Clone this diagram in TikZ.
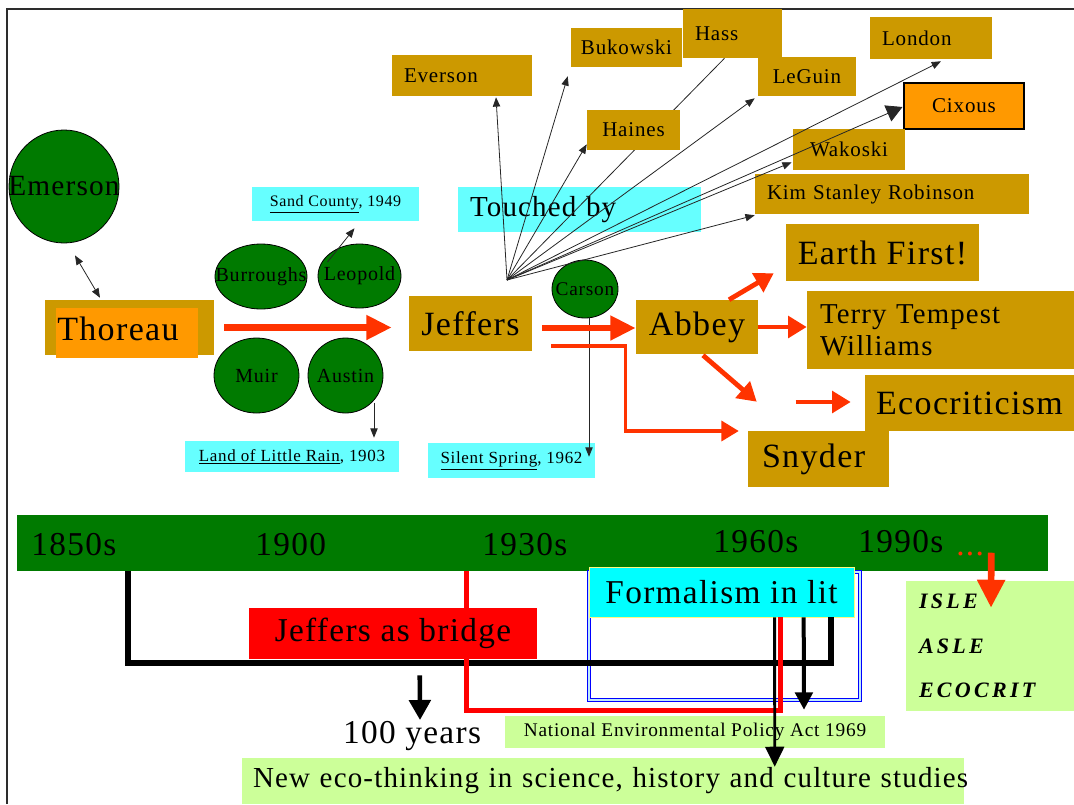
\documentclass[tikz,border=0pt]{standalone}
\usepackage{fontspec}
\setmainfont{Liberation Serif}[LetterSpace=4]
\newfontfamily\islefont{Liberation Serif}[LetterSpace=15]
\usetikzlibrary{arrows.meta,calc,shapes.geometric}

\definecolor{goldc}{RGB}{204,153,0}
\definecolor{orangec}{RGB}{255,153,0}
\definecolor{skyc}{RGB}{102,255,255}
\definecolor{formc}{RGB}{0,255,255}
\definecolor{leafc}{RGB}{0,122,0}
\definecolor{arrowc}{RGB}{255,51,0}
\definecolor{bridgec}{RGB}{255,0,0}
\definecolor{limec}{RGB}{204,255,153}
\definecolor{framec}{RGB}{45,45,45}

\tikzset{
  gold/.style={fill=goldc, inner sep=0pt},
  sky/.style={fill=skyc, inner sep=0pt},
  lime/.style={fill=limec, inner sep=0pt},
  blob/.style={ellipse, draw=black, line width=0.6pt, fill=leafc, inner sep=0pt, font=\fontsize{15}{17}\selectfont},
  smalltxt/.style={font=\fontsize{15.75}{18}\selectfont},
  midtxt/.style={font=\fontsize{21.75}{24}\selectfont},
  bigtxt/.style={font=\fontsize{25.5}{28}\selectfont},
  captxt/.style={font=\fontsize{12.75}{15}\selectfont},
  timetxt/.style={font=\fontsize{25}{28}\selectfont},
  yeartxt/.style={timetxt, inner sep=0pt, anchor=base west},
  fan/.style={draw=black!85, line width=0.6pt},
  fantip/.style={-{Triangle[length=7pt,width=5.5pt]}},
  bigred/.style={draw=arrowc, line width=4.75pt, -{Triangle[length=19pt,width=17.5pt]}},
  midred/.style={draw=arrowc, line width=3.6pt, -{Triangle[length=14pt,width=16pt]}},
  thinred/.style={draw=arrowc, line width=2.6pt, -{Triangle[length=13pt,width=15pt]}},
}

\begin{document}
\begin{tikzpicture}[x=0.75pt,y=0.75pt,yscale=-1,xscale=1]
\useasboundingbox (0,0) rectangle (1074,804);

%Straight Lines (slide frame)
\draw [color=framec, line width=1.5pt] (7,804) -- (7,9) -- (1074,9) ;

%Shape: Ellipse
\node [blob, minimum width=82.5pt, minimum height=84.75pt, font=\fontsize{22}{24}\selectfont] (emerson) at (64,186.5) {\makebox[0pt]{Emerson}};
%Shape: Rectangle
\node [gold, minimum width=126.75pt, minimum height=41.25pt] (thoreauback) at (129.5,327.5) {};
% Text Node
\node [fill=orangec, anchor=base west, inner xsep=0.75pt, inner ysep=0pt, text width=105pt, text height=24pt, text depth=13.5pt, align=left, bigtxt] (thoreau) at (56,340) {Thoreau};
%Straight Lines
\draw [fan, {Triangle[length=7pt,width=5.5pt]}-{Triangle[length=7pt,width=5.5pt]}] ($(emerson.south)+(11,12)$) -- ($(thoreauback.north)+(-29.5,-2)$) ;

%Shape: Ellipse
\node [blob, minimum width=69pt, minimum height=48.75pt] (burroughs) at (261,276.5) {\makebox[0pt]{Burroughs}};
\node [blob, minimum width=62.25pt, minimum height=48pt] (leopold) at (359.5,276) {\makebox[0pt]{Leopold}};
\node [blob, minimum width=63.75pt, minimum height=56.25pt] (muir) at (256.5,375.5) {\makebox[0pt]{Muir}};
\node [blob, minimum width=56.25pt, minimum height=56.25pt] (austin) at (345.5,375.5) {\makebox[0pt]{Austin}};
\node [blob, minimum width=49.5pt, minimum height=43.5pt, font=\fontsize{14.5}{16}\selectfont] (carson) at (585,289) {\makebox[0pt]{Carson}};

% Text Node
\node [sky, minimum width=125.25pt, minimum height=25.5pt, font=\fontsize{12}{14}\selectfont] (sandcounty) at (335.5,204) {\underline{Sand County}, 1949};
\node [sky, minimum width=160.5pt, minimum height=23.25pt, captxt] (landrain) at (292,456.5) {\underline{Land of Little Rain}, 1903};
\node [sky, minimum width=125.25pt, minimum height=26.25pt, captxt] (silent) at (511.5,460.5) {\underline{Silent Spring}, 1962};
%Straight Lines
\draw [fan, fantip] ($(leopold.center)+(-32,-14)$) -- ($(sandcounty.south)+(19,7)$) ;
\draw [fan, fantip] ($(austin.center)+(28.5,27)$) -- ($(landrain.north)+(82,-3)$) ;
\draw [fan, fantip] ($(carson.center)+(4,29)$) -- ($(silent.north)+(77.5,14)$) ;

% Text Node
\node [gold, text width=87pt, inner xsep=9pt, minimum height=30.75pt, align=left, smalltxt] (everson) at (462,75.5) {Everson};
\node [gold, minimum width=83.25pt, minimum height=29.25pt, smalltxt] (bukowski) at (626.5,47.5) {Bukowski};
\node [gold, text width=56.25pt, inner xsep=9pt, minimum height=36.75pt, align=left, smalltxt] (hass) at (732.5,33.5) {Hass};
\node [gold, minimum width=73.5pt, minimum height=29.25pt, smalltxt] (leguin) at (807,76.5) {LeGuin};
\node [gold, text width=73.5pt, inner xsep=9pt, minimum height=31.5pt, align=left, smalltxt] (london) at (931,38) {London};
\node [fill=orangec, draw=black, line width=0.8pt, inner sep=0pt, minimum width=90pt, minimum height=34.5pt, smalltxt] (cixous) at (964,106) {Cixous};
\node [gold, minimum width=84pt, minimum height=30.75pt, smalltxt] (wakoski) at (849,149.5) {Wakoski};
\node [gold, text width=187.5pt, inner xsep=9pt, minimum height=30pt, align=left, smalltxt] (ksr) at (892,194) {Kim Stanley Robinson};
\node [sky, text width=164.25pt, inner xsep=9pt, minimum height=33.75pt, align=left, midtxt] (touched) at (579.5,209.5) {Touched by};

%Straight Lines (fan out of Jeffers)
\coordinate (hub) at (507,280);
\draw [fan] (hub) -- ($(hass.south)+(-8,0)$) ;
\node [gold, minimum width=69.75pt, minimum height=30pt, smalltxt] (haines) at (633.5,130) {Haines};
\draw [fan, fantip] (hub) -- ($(everson.south)+(34,1)$) ;
\draw [fan, fantip] (hub) -- ($(bukowski.south west)+(-3,9)$) ;
\draw [fan, fantip] (hub) -- ($(haines.south west)+(0,-6)$) ;
\draw [fan, fantip] (hub) -- ($(leguin.south west)+(-3,2)$) ;
\draw [fan, fantip] (hub) -- ($(london.south)+(10,2)$) ;
\draw [fan, -{Triangle[length=12pt,width=13pt]}] (hub) -- ($(cixous.west)+(-1,1)$) ;
\draw [fan, fantip] (hub) -- ($(wakoski.south west)+(-1,-8)$) ;
\draw [fan, fantip] (hub) -- ($(ksr.south west)+(0,1)$) ;

% Text Node
\node [gold, minimum width=92.25pt, minimum height=41.25pt, bigtxt] (jeffers) at (470.5,323.5) {Jeffers};
\node [gold, minimum width=91.5pt, minimum height=40.5pt, bigtxt] (abbey) at (697,327) {Abbey};
\node [gold, minimum width=144.75pt, minimum height=42.75pt, bigtxt] (earthfirst) at (882.5,252.5) {Earth First!};
\node [gold, text width=180.75pt, inner xsep=9.75pt, minimum height=58.5pt, align=left, font=\fontsize{21.6}{24}\selectfont] (terry) at (940.5,330) {Terry Tempest\\Williams};
\node [gold, minimum width=156.75pt, minimum height=42pt, bigtxt] (ecocrit) at (969.5,403) {Ecocriticism};
\node [gold, text width=84.75pt, inner xsep=10.5pt, minimum height=42pt, align=left, bigtxt] (snyder) at (818.5,459) {Snyder};

%Straight Lines (red arrows)
\draw [bigred] ($(thoreauback.east)+(10,0)$) -- ($(jeffers.west)+(-17,4)$) ;
\draw [bigred] ($(jeffers.east)+(10,4.5)$) -- ($(abbey.west)+(0,1)$) ;
\draw [thinred] ($(jeffers.east)+(19,22.5)$) -- ++(74,0) |- ($(snyder.west)+(-9,-28)$) ;
\draw [midred] ($(abbey.north)+(32,0)$) -- ($(earthfirst.south west)+(-12,-8)$) ;
\draw [midred] (abbey.east) -- ($(terry.west)+(0,-3)$) ;
\draw [midred] ($(abbey.south)+(6,1)$) -- ($(snyder.north west)+(9,-29)$) ;
\draw [midred] ($(ecocrit.west)+(-69,-1)$) -- ($(ecocrit.west)+(-14,-1)$) ;

%Shape: Rectangle (time line)
\node [fill=leafc, inner sep=0pt, minimum width=773.25pt, minimum height=42pt] (bar) at (532.5,543) {};
% Text Node
\node [yeartxt] (y1850) at (31,555) {1850s};
\node [yeartxt] (y1900) at (255,555) {1900};
\node [yeartxt] (y1930) at (482,555) {1930s};
\node [yeartxt] (y1960) at (713,552) {1960s};
\node [yeartxt] (y1990) at (858,552) {1990s};
\node [yeartxt, text=arrowc] (dots) at (956,555) {...};

%Shape: Rectangle
\draw [draw=blue, double=cyan!25, double distance=1.2pt, line width=0.6pt] (589,572) rectangle (860,700) ;
% Text Node
\node [fill=formc, draw=yellow!50, line width=0.5pt, inner sep=0pt, minimum width=198.75pt, minimum height=37.5pt, timetxt] (formalism) at (721.5,592) {Formalism in lit};

%Straight Lines (brackets)
\draw [line width=4.5pt] ($(bar.south west)+(111,0)$) -- ++(0,92) -| ($(formalism.south west)+(242,0)$) ;
\draw [draw=bridgec, line width=3.6pt] ($(bar.south west)+(450,0)$) -- ++(0,139) -| ($(formalism.south west)+(192,0)$) ;

% Text Node
\node [fill=bridgec, inner sep=0pt, minimum width=216pt, minimum height=38.25pt, timetxt] (bridge) at (393,633.5) {Jeffers as bridge};
\node [lime, minimum width=285pt, minimum height=24pt, font=\fontsize{14.5}{16}\selectfont] (nepa) at (695,732) {National Environmental Policy Act 1969};
\node [lime, text width=525pt, inner xsep=8.25pt, minimum height=34.5pt, align=left, font=\fontsize{21.75}{24}\selectfont] (neweco) at (603,781) {\mbox{New eco-thinking in science, history and culture studies}};
\node [timetxt, inner sep=0pt, anchor=base] (years) at (412,743) {100 years};
\node [lime, text width=106.5pt, inner xsep=9.75pt, minimum height=97.5pt, align=left, font=\islefont\bfseries\itshape\fontsize{16.5}{33.4}\selectfont] (isle) at (990,646) {ISLE\\ASLE\\ECOCRIT};

%Straight Lines
\draw [line width=2.2pt, -{Triangle[length=15pt,width=14pt]}] ($(formalism.south west)+(186,0)$) -- ($(neweco.north west)+(533,9)$) ;
\draw [line width=3pt, -{Triangle[length=13pt,width=13pt]}] ($(formalism.south west)+(215,0)$) -- ($(nepa.north)+(109,-6)$) ;
\draw [line width=3.4pt, -{Triangle[length=15pt,width=16pt]}] ($(bar.south west)+(403,104)$) -- ($(years.base)+(8,-23)$) ;
\draw [draw=arrowc, line width=5pt, -{Triangle[length=21pt,width=20pt]}] ($(bar.north east)+(-57,38)$) -- ($(isle.north)+(1,27)$) ;

\end{tikzpicture}
\end{document}
